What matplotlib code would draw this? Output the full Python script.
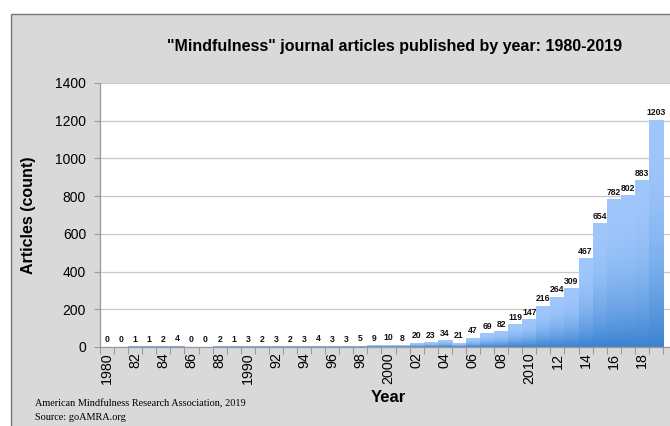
import matplotlib
matplotlib.use("Agg")
import matplotlib.pyplot as plt
import numpy as np
from matplotlib.patches import Rectangle
from matplotlib.colors import to_rgb

years = list(range(1980, 2020))
counts = [0, 0, 1, 1, 2, 4, 0, 0, 2, 1,
          3, 2, 3, 2, 3, 4, 3, 3, 5, 9,
          10, 8, 20, 23, 34, 21, 47, 69, 82, 119,
          147, 216, 264, 309, 467, 654, 782, 802, 883, 1203]
tick_years = list(range(1980, 2020, 2))
tick_labels = ["1980", "82", "84", "86", "88", "1990", "92", "94", "96", "98",
               "2000", "02", "04", "06", "08", "2010", "12", "14", "16", "18"]
y_ticks = [0, 200, 400, 600, 800, 1000, 1200, 1400]

title = '"Mindfulness" journal articles published by year: 1980-2019'
credit1 = "American Mindfulness Research Association, 2019"
credit2 = "Source: goAMRA.org"

W, H = 670, 426
fig = plt.figure(figsize=(W / 100, H / 100), dpi=100)
fig.patch.set_facecolor("white")

# gray chart-area frame
fig.add_artist(Rectangle((10.5 / W, -0.05), 1.2, 1 - 13.5 / H + 0.05,
                         transform=fig.transFigure, facecolor="#d9d9d9",
                         edgecolor="#6e7884", linewidth=1.0, zorder=0))

ax = fig.add_axes([100 / W, 1 - 347 / H, (670 - 100) / W, (347 - 83) / H])
ax.set_facecolor("white")
ax.set_zorder(1)

x = np.arange(len(years))
dark = np.array(to_rgb("#3a83d1"))
light = np.array(to_rgb("#a0c7fc"))
n = 256
t = np.linspace(1, 0, n)  # top row first
frac = 1 - (1 - t) ** 2.2
grad = dark[None, :] * (1 - frac[:, None]) + light[None, :] * frac[:, None]
img = grad[:, None, :]

label_kw = dict(textcoords="offset points", ha="center", va="bottom",
                fontsize=6.2, fontweight="bold", family="Liberation Sans",
                color="#111111", zorder=3)
for xi, v in zip(x, counts):
    if v > 0:
        ax.imshow(img, extent=(xi - 0.5, xi + 0.5, 0, v), aspect="auto",
                  interpolation="bilinear", zorder=2)
    ax.annotate(str(v), (xi, v), xytext=(0, 2.0), **label_kw)

ax.set_xlim(-0.5, 40.0)
ax.set_ylim(0, 1400)

ax.set_yticks(y_ticks)
ax.set_yticklabels([str(v) for v in y_ticks], family="Liberation Sans", fontsize=10)
ax.yaxis.grid(True, color="#c8c8c8", linewidth=0.9, zorder=1)
ax.set_axisbelow(True)
ax.tick_params(axis="y", length=4, width=0.8, color="#999999", pad=6)

ax.set_xticks([years.index(y) for y in tick_years])
ax.set_xticklabels(tick_labels, rotation=90, family="Liberation Sans", fontsize=10.3)
ax.set_xticks(np.arange(-0.5, 40.5, 1.0), minor=True)
ax.tick_params(axis="x", which="major", length=0, pad=4)
ax.tick_params(axis="x", which="minor", length=5, width=0.8, color="#999999")

for s in ["top", "right"]:
    ax.spines[s].set_visible(False)
for s in ["left", "bottom"]:
    ax.spines[s].set_color("#999999")
    ax.spines[s].set_linewidth(0.9)

fig.text(395 / W, 1 - 47 / H, title, ha="center", va="center",
         fontsize=11.5, fontweight="bold", family="Liberation Sans")
fig.text(28 / W, 1 - 215 / H, "Articles (count)", rotation=90, ha="center",
         va="center", fontsize=11.5, fontweight="bold", family="Liberation Sans")
fig.text(388 / W, 1 - 398 / H, "Year", ha="center", va="center",
         fontsize=12, fontweight="bold", family="Liberation Sans")
fig.text(35 / W, 1 - 404 / H, credit1, ha="left", va="center",
         fontsize=7.35, family="Liberation Serif")
fig.text(35 / W, 1 - 417 / H, credit2, ha="left", va="center",
         fontsize=7.35, family="Liberation Serif")

fig.savefig("out.png", dpi=100)
